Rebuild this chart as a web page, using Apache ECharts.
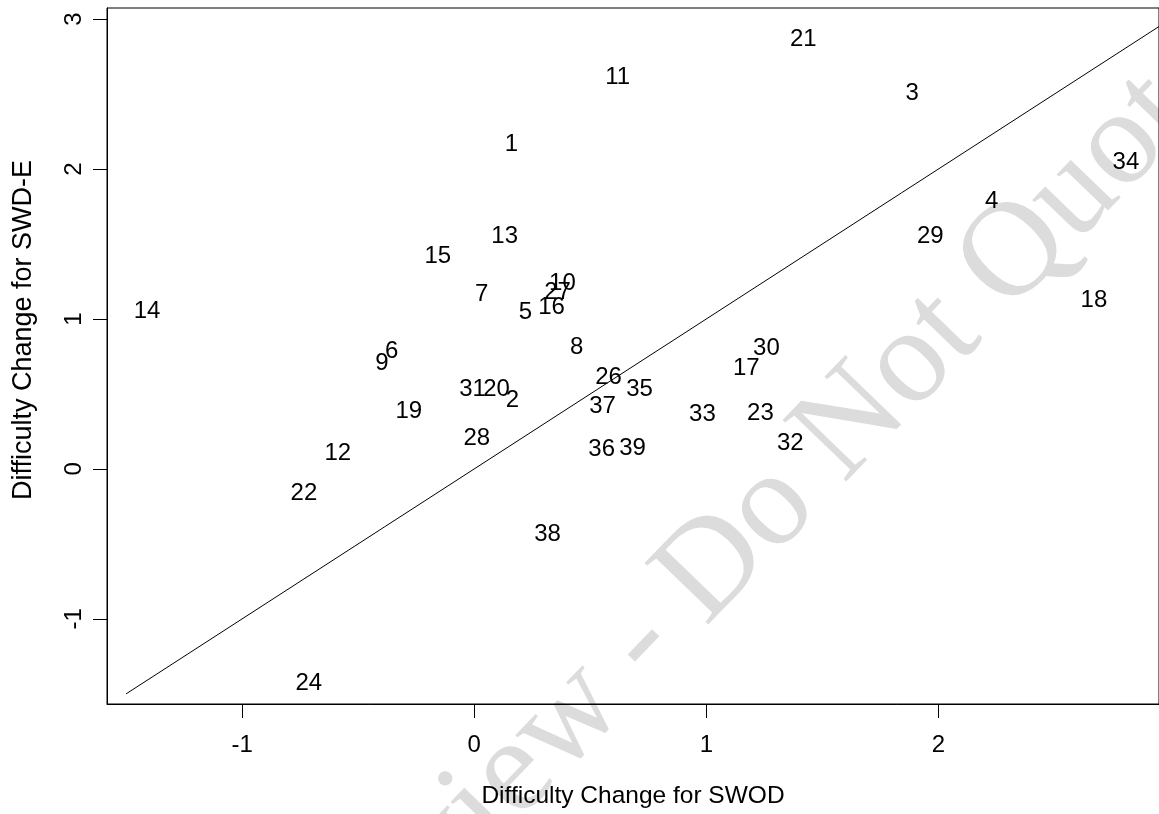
<!DOCTYPE html>
<html>
<head>
<meta charset="utf-8">
<script src="https://cdn.jsdelivr.net/npm/echarts@6/dist/echarts.min.js"></script>
<style>
html,body{margin:0;padding:0;background:#fff;}
#chart{width:1159px;height:814px;}
</style>
</head>
<body>
<div id="chart"></div>
<script>
// Item labels (item numbers)
const itemLabels = ['1','2','3','4','5','6','7','8','9','10','11','12','13','14','15','16','17','18','19','20','21','22','23','24','26','27','28','29','30','31','32','33','34','35','36','37','38','39'];
// Difficulty change for SWOD (x)
const swodValues = [0.16,0.165,1.887,2.23,0.22,-0.356,0.032,0.441,-0.398,0.38,0.618,-0.588,0.131,-1.41,-0.157,0.333,1.172,2.67,-0.282,0.096,1.418,-0.734,1.233,-0.713,0.579,0.359,0.011,1.965,1.259,-0.007,1.362,0.983,2.808,0.712,0.549,0.553,0.316,0.682];
// Difficulty change for SWD-E (y)
const swdeValues = [2.18,0.47,2.52,1.80,1.056,0.80,1.175,0.823,0.717,1.248,2.627,0.119,1.566,1.062,1.433,1.088,0.683,1.14,0.398,0.544,2.88,-0.153,0.384,-1.415,0.624,1.19,0.218,1.566,0.816,0.544,0.185,0.378,2.058,0.544,0.145,0.431,-0.425,0.152];
// Reference line y = x
const refLineX = [-1.5, 3];
const refLineY = [-1.5, 3];
// Tick values
const xTicks = [-1, 0, 1, 2];
const yTicks = [-1, 0, 1, 2, 3];

const pts = swodValues.map((x, i) => [x, swdeValues[i], itemLabels[i]]);
const linePts = refLineX.map((x, i) => [x, refLineY[i]]);

const FONT = 'Liberation Sans, Arial, Helvetica, sans-serif';
const chart = echarts.init(document.getElementById('chart'), null, {renderer: 'canvas'});
chart.setOption({
  animation: false,
  backgroundColor: '#ffffff',
  grid: {left: 107, top: 8, width: 1053, height: 699, show: true, borderColor: '#000', borderWidth: 1, backgroundColor: 'transparent'},
  xAxis: {
    type: 'value', min: -1.5824, max: 2.9505,
    splitLine: {show: false},
    axisLine: {show: true, onZero: false, lineStyle: {color: '#000', width: 1}},
    axisTick: {show: true, length: 14, inside: false, customValues: xTicks, lineStyle: {color: '#000'}},
    axisLabel: {show: true, customValues: xTicks, margin: 29, color: '#000', fontSize: 24, fontFamily: FONT,
      formatter: v => String(v)},
    name: 'Difficulty Change for SWOD', nameLocation: 'middle', nameGap: 80,
    nameTextStyle: {color: '#000', fontSize: 24.5, fontFamily: FONT}
  },
  yAxis: {
    type: 'value', min: -1.5677, max: 3.074,
    splitLine: {show: false},
    axisLine: {show: true, onZero: false, lineStyle: {color: '#000', width: 1}},
    axisTick: {show: true, length: 14, inside: false, customValues: yTicks, lineStyle: {color: '#000'}},
    axisLabel: {show: true, customValues: yTicks, margin: 21, rotate: 90, color: '#000', fontSize: 24, fontFamily: FONT,
      formatter: v => String(v)}
  },
  graphic: [{
    type: 'text', z: -10, x: 753, y: 527, rotation: 46 * Math.PI / 180,
    style: {text: 'Preview - Do Not Quote', fill: '#dcdcdc', font: '135px "Liberation Serif", "Times New Roman", serif', align: 'center', verticalAlign: 'middle'}
  }, {
    type: 'text', z: 10, x: 24, y: 330, rotation: Math.PI / 2,
    style: {text: 'Difficulty Change for SWD-E', fill: '#000', font: '27px "Liberation Sans", Arial, sans-serif', align: 'center', verticalAlign: 'middle'}
  }],
  series: [
    {
      type: 'line', data: linePts, symbol: 'none', clip: true, z: 3,
      lineStyle: {color: '#000', width: 1}
    },
    {
      type: 'scatter', data: pts, symbolSize: 0, z: 4,
      itemStyle: {opacity: 1},
      label: {show: true, position: 'inside', offset: [0, 2], formatter: p => p.data[2], color: '#000', opacity: 1,
        textBorderWidth: 0, fontSize: 24, fontFamily: FONT, align: 'center', verticalAlign: 'middle'}
    }
  ]
});
</script>
</body>
</html>
